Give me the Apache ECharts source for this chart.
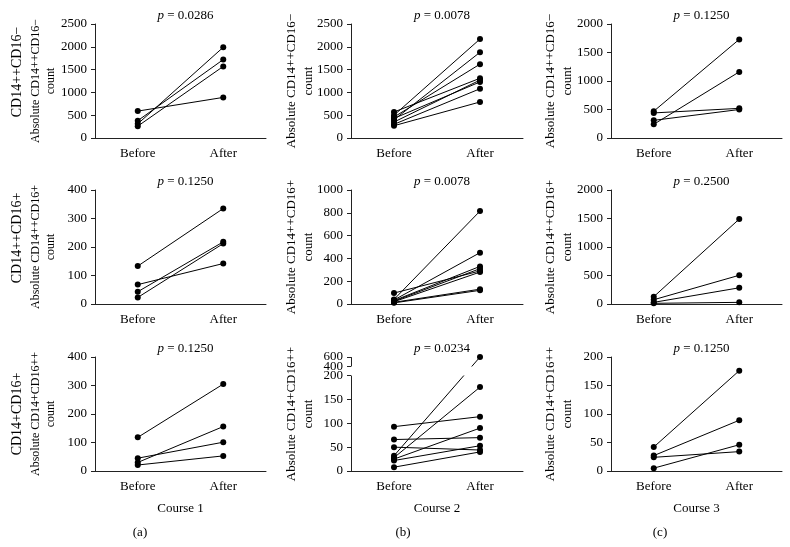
<!DOCTYPE html>
<html>
<head>
<meta charset="utf-8">
<script src="https://cdn.jsdelivr.net/npm/echarts@6/dist/echarts.min.js"></script>
<style>
  html, body { margin: 0; padding: 0; background: #fff; }
  #chart { width: 790px; height: 547px; }
</style>
</head>
<body>
<div id="chart"></div>
<script>
// data: one before/after pair per patient
const categories = ['Before', 'After'];

const beforeA1 = [590, 380, 310, 260];
const afterA1 = [890, 1720, 1990, 1570];
const beforeB1 = [570, 500, 460, 430, 400, 350, 300, 270];
const afterB1 = [1310, 2170, 1620, 1230, 1880, 1270, 1080, 790];
const beforeC1 = [470, 440, 310, 240];
const afterC1 = [1730, 520, 500, 1160];

const beforeA2 = [133, 68, 43, 23];
const afterA2 = [335, 142, 218, 212];
const beforeB2 = [96, 40, 35, 30, 25, 20, 15, 10];
const afterB2 = [290, 815, 450, 330, 310, 280, 130, 120];
const beforeC2 = [128, 75, 29, 12];
const afterC2 = [1490, 504, 284, 29];

const beforeA3 = [118, 45, 30, 21];
const afterA3 = [305, 101, 156, 53];
const beforeB3 = [93, 66, 50, 32, 28, 25, 22, 8];
const afterB3 = [114, 70, 44, 500, 176, 90, 53, 40];
const beforeC3 = [42, 27, 24, 5];
const afterC3 = [176, 89, 34, 46];

const pValues = ['0.0286', '0.0078', '0.1250', '0.1250', '0.0078', '0.2500', '0.1250', '0.0234', '0.1250'];
const yMax = [2500, 2500, 2000, 400, 1000, 2000, 400, 600, 200];
const yStep = [500, 500, 500, 100, 200, 500, 100, 50, 50];
const rowLabels = ['CD14++CD16\u2212', 'CD14++CD16+', 'CD14+CD16+'];
const axisNames = ['Absolute CD14++CD16\u2212\ncount', 'Absolute CD14++CD16+\ncount', 'Absolute CD14+CD16++\ncount'];
const courses = ['Course 1', 'Course 2', 'Course 3'];
const letters = ['(a)', '(b)', '(c)'];

const panels = [
  [beforeA1, afterA1], [beforeB1, afterB1], [beforeC1, afterC1],
  [beforeA2, afterA2], [beforeB2, afterB2], [beforeC2, afterC2],
  [beforeA3, afterA3], [beforeB3, afterB3], [beforeC3, afterC3]
];

const font = '"Liberation Serif", "DejaVu Serif", serif';
const colLeft = [95, 351, 611];
const gridW = [171, 172, 171];
const rowTop = [24, 190, 357];
const gridH = 114;
const nameGaps = [37, 34, 35];
const ink = '#222';

const grids = [], xAxes = [], yAxes = [], titles = [], series = [];

panels.forEach((pair, k) => {
  const row = Math.floor(k / 3), col = k % 3;
  grids.push({
    left: colLeft[col], top: rowTop[row], width: gridW[col], height: gridH,
    containLabel: false, outerBoundsMode: 'none'
  });

  titles.push({
    text: '{i|p} = ' + pValues[k],
    left: colLeft[col] + gridW[col] / 2,
    top: rowTop[row] - 20,
    textAlign: 'center',
    textStyle: {
      fontFamily: font, fontSize: 13, fontWeight: 'normal', color: '#000',
      rich: { i: { fontFamily: font, fontSize: 13, fontStyle: 'italic', color: '#000' } }
    }
  });

  xAxes.push({
    gridIndex: k,
    type: 'category',
    data: categories,
    boundaryGap: true,
    axisLine: { lineStyle: { color: ink, width: 1 } },
    axisTick: { alignWithLabel: true, length: 4, lineStyle: { color: ink } },
    axisLabel: { fontFamily: font, fontSize: 13, color: '#000', margin: 9 },
    name: row === 2 ? courses[col] : '',
    nameLocation: 'middle',
    nameGap: 31,
    nameTextStyle: { fontFamily: font, fontSize: 13, color: '#000' }
  });

  const y = {
    gridIndex: k,
    type: 'value',
    min: 0,
    max: yMax[k],
    interval: yStep[k],
    axisLine: { show: true, lineStyle: { color: ink, width: 1 } },
    axisTick: { show: true, length: 4, lineStyle: { color: ink } },
    splitLine: { show: false },
    axisLabel: { fontFamily: font, fontSize: 13, color: '#000', margin: 8, formatter: v => String(v) },
    name: axisNames[row],
    nameLocation: 'middle',
    nameRotate: 90,
    nameGap: nameGaps[col],
    nameMoveOverlap: false,
    nameTextStyle: {
      fontFamily: font, fontSize: col === 0 ? 12 : 13, color: '#000',
      lineHeight: col === 0 ? 15 : 17
    }
  };
  if (k === 7) {
    // broken axis: 0-200, gap, then a squeezed 400-600 segment
    y.breaks = [
      { start: 200, end: 400, gap: '8%' },
      { start: 420, end: 600, gap: 0 }
    ];
    y.breakArea = {
      show: true,
      zigzagAmplitude: 0,
      zigzagZ: 100,
      expandOnClick: false,
      itemStyle: { color: '#fff', borderColor: '#fff', borderWidth: 0, opacity: 1 }
    };
    y.breakLabelLayout = { moveOverlap: false };
    y.axisLabel.formatter = v => (v % 200 === 0 ? String(v) : (v < 200 && v % 50 === 0 ? String(v) : ''));
    y.axisLabel.hideOverlap = false;
    y.axisLabel.showMaxLabel = true;
    y.axisLabel.showMinLabel = true;
  }
  yAxes.push(y);

  const [b, a] = pair;
  b.forEach((v, i) => {
    series.push({
      type: 'line',
      xAxisIndex: k,
      yAxisIndex: k,
      data: [v, a[i]],
      symbol: 'circle',
      symbolSize: 6,
      showAllSymbol: true,
      lineStyle: { color: '#000', width: 1 },
      itemStyle: { color: '#000' },
      silent: true
    });
  });
});

const graphics = [];
const rowLabelY = [72, 238, 414];
rowLabels.forEach((t, r) => {
  graphics.push({
    type: 'text',
    x: 17,
    y: rowLabelY[r],
    rotation: Math.PI / 2,
    style: { text: t, font: '14px ' + font, fill: '#000', align: 'center', verticalAlign: 'middle' }
  });
});
const letterX = [140, 403, 660];
letters.forEach((t, c) => {
  graphics.push({
    type: 'text',
    x: letterX[c],
    y: 533,
    style: { text: t, font: '13px ' + font, fill: '#000', align: 'center', verticalAlign: 'middle' }
  });
});

const chart = echarts.init(document.getElementById('chart'));
chart.setOption({
  animation: false,
  backgroundColor: '#fff',
  title: titles,
  grid: grids,
  xAxis: xAxes,
  yAxis: yAxes,
  series: series,
  graphic: graphics
});
</script>
</body>
</html>
